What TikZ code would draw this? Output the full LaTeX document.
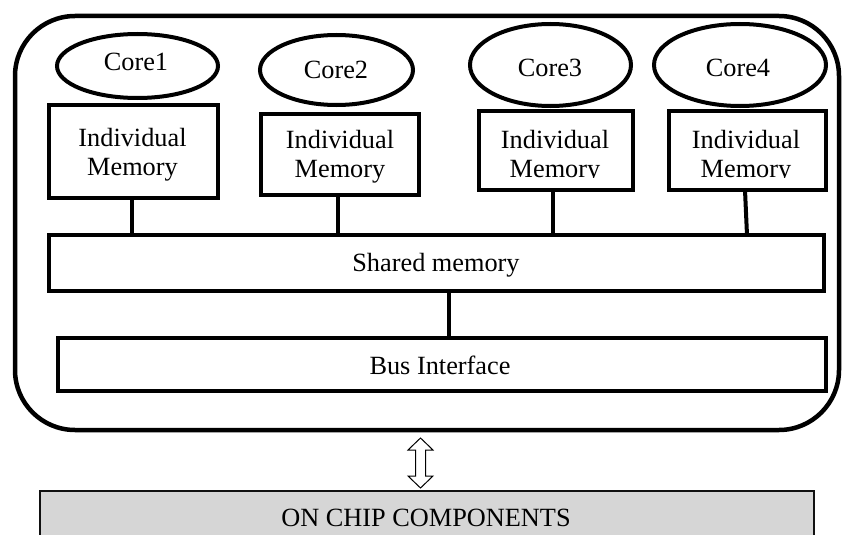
\documentclass[tikz,border=0pt]{standalone}
\usepackage{fontspec}
\setmainfont{Liberation Serif}
\usetikzlibrary{shapes.geometric}
\definecolor{panel}{HTML}{D6D6D6}
\definecolor{edge}{HTML}{111111}
\begin{document}
\begin{tikzpicture}[x=1pt,y=-1pt,
  every node/.style={font=\fontsize{26.3}{28.5}\selectfont, inner sep=0pt, outer sep=0pt},
  core/.style={ellipse, draw, line width=4pt},
  membox/.style={draw, line width=4pt},
  bar/.style={draw, line width=4pt},
  link/.style={line width=4pt},
  lbl/.style={anchor=base, align=center},
]
\useasboundingbox (0,0) rectangle (844,535);

% outer chip frame
\node (chip) [draw, line width=4.5pt, rounded corners=60pt,
  minimum width=824pt, minimum height=414pt] at (427,223) {};

% cores
\node (c1) [core, minimum width=161pt, minimum height=64pt] at (137.5,66) {};
\node (c2) [core, minimum width=153pt, minimum height=70pt] at (336.5,70) {};
\node (c3) [core, minimum width=161pt, minimum height=82pt] at (550.5,65) {};
\node (c4) [core, minimum width=172pt, minimum height=82pt] at (740,65) {};
\node (c1t) [lbl] at (136,71) {Core1};
\node (c2t) [lbl] at (336,78) {Core2};
\node (c3t) [lbl] at (550,77) {Core3};
\node (c4t) [lbl] at (738,77) {Core4};

% individual memories (two-line labels sit on the baseline of their last line)
\node (m1) [membox, minimum width=169pt, minimum height=93pt] at (133.5,151.5) {};
\node (m2) [membox, minimum width=158pt, minimum height=81pt] at (340,154.5) {};
\node (m3) [membox, minimum width=154pt, minimum height=79pt] at (556,150.5) {};
\node (m4) [membox, minimum width=157pt, minimum height=79pt] at (747.5,150.5) {};
\node (m1t) [lbl] at (132.5,175) {Individual\\Memory};
\node (m2t) [lbl] at (340,177) {Individual\\Memory};
\begin{scope}
  \clip (470,100) rectangle (840,177.5);
  \node (m3t) [lbl] at (555,177) {Individual\\Memory};
  \node (m4t) [lbl] at (746,177) {Individual\\Memory};
\end{scope}

% shared memory and bus interface
\node (sh) [bar, minimum width=775pt, minimum height=56pt] at (436.5,263) {};
\node (sht) [lbl] at (436,271) {Shared memory};
\node (bus) [bar, line width=4.5pt, minimum width=768pt, minimum height=53pt] at (442,364.5) {};
\node (bust) [lbl] at (440,374) {Bus Interface};

% links
\draw[link] ([xshift=-1.5pt]m1.south) -- ([xshift=-1.5pt]m1.south |- sh.north);
\draw[link] ([xshift=-2pt]m2.south) -- ([xshift=-2pt]m2.south |- sh.north);
\draw[link] ([xshift=-3pt]m3.south) -- ([xshift=-3pt]m3.south |- sh.north);
\draw[link] ([xshift=-2.5pt]m4.south) -- ([xshift=-0.5pt]m4.south |- sh.north);
\draw[link] ([xshift=12.5pt]sh.south) -- ([xshift=12.5pt]sh.south |- bus.north);

% on chip components
\node (occ) [draw=edge, line width=2pt, fill=panel, anchor=north,
  minimum width=774pt, minimum height=60pt] at (427,491) {};
\node (occt) [lbl] at (426,526) {ON CHIP COMPONENTS};

% two-way arrow between the chip and its components
\coordinate (atip) at ([xshift=-6.5pt,yshift=-8pt]chip.south);
\draw[line width=1pt, fill=white] (atip) -- ++(12.5,12) -- ++(-7.5,0) -- ++(0,26)
  -- ++(7.5,0) -- ++(-12.5,12) -- ++(-12.5,-12) -- ++(7.5,0) -- ++(0,-26)
  -- ++(-7.5,0) -- cycle;
\end{tikzpicture}
\end{document}
